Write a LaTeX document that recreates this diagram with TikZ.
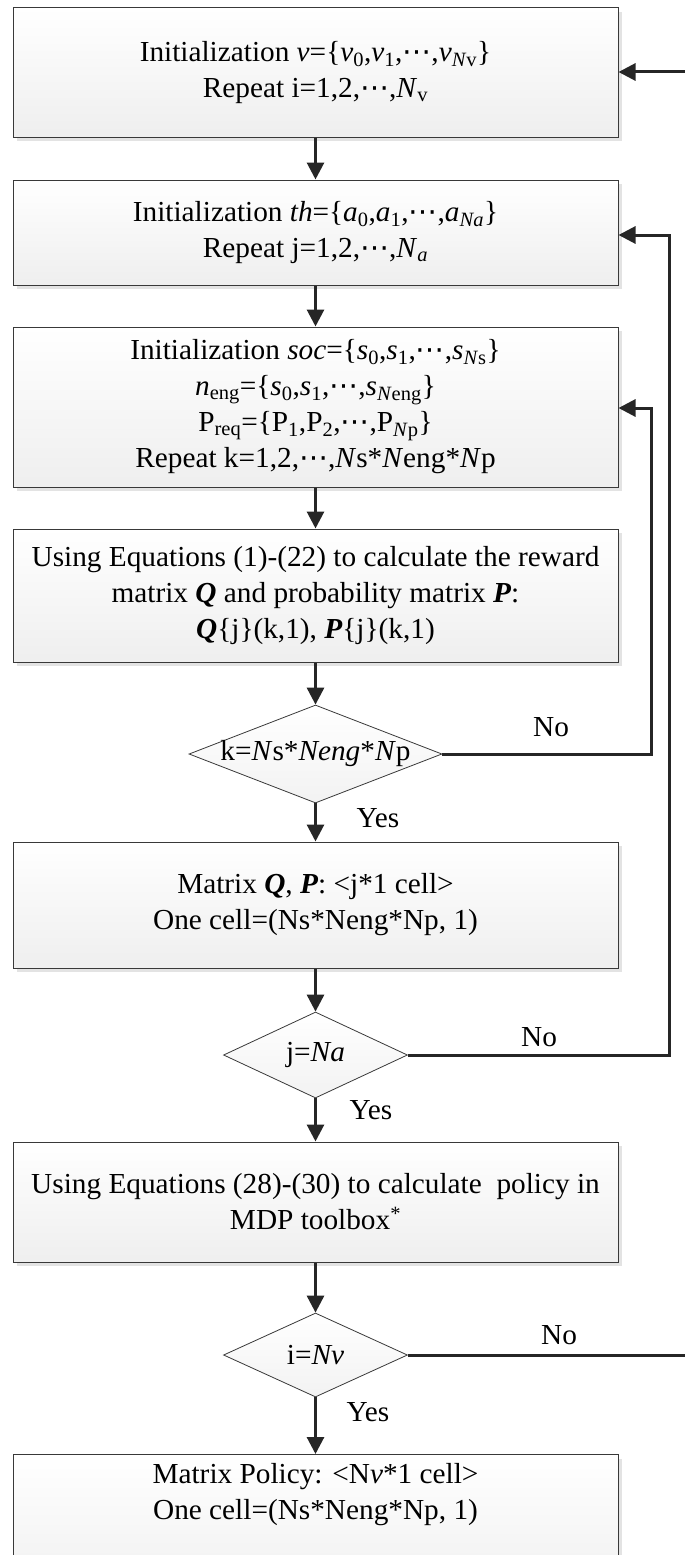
\documentclass[tikz,border=0pt]{standalone}
\usepackage{fontspec}
\setmainfont{Liberation Serif}[FakeStretch=1.01]
\newfontfamily\symfont{DejaVu Sans}
\usetikzlibrary{arrows.meta,shapes.geometric,shadows}
% midline ellipsis taken from DejaVu Sans
\newcommand\cdd{{\symfont ⋯}}
\newcommand\bi[1]{\textbf{\textit{#1}}}
\begin{document}
\begin{tikzpicture}[x=1pt,y=-1pt,
  font=\fontsize{29}{36}\selectfont,
  box/.style={draw=gray!45!black, line width=1pt, top color=white, bottom color=gray!13,
    minimum width=605pt, align=center, inner sep=0pt,
    drop shadow={shadow xshift=4pt, shadow yshift=-4pt, fill=gray!22, opacity=1}},
  dec/.style={diamond, draw=gray!45!black, line width=0.8pt, top color=white, bottom color=gray!10,
    inner sep=0pt},
  flow/.style={draw=gray!30!black, line width=3pt, -{Triangle[length=17pt,width=17pt]}},
  lab/.style={inner sep=0pt}]
\useasboundingbox (0,0) rectangle (685,1555);

% process boxes
\node[box, minimum height=129pt] (b1) at (315.5,72.5)
  {Initialization \textit{v}=\{\textit{v}\textsubscript{0},\textit{v}\textsubscript{1},\cdd,\textit{v}\textsubscript{\textit{N}v}\}\\
   Repeat i=1,2,\cdd,\textit{N}\textsubscript{v}};
\node[box, minimum height=105pt] (b2) at (315.5,232.5)
  {Initialization \textit{th}=\{\textit{a}\textsubscript{0},\textit{a}\textsubscript{1},\cdd,\textit{a}\textsubscript{\textit{Na}}\}\\
   Repeat j=1,2,\cdd,\textit{N}\textsubscript{\textit{a}}};
\node[box, minimum height=160pt] (b3) at (315.5,407)
  {Initialization \textit{soc}=\{\textit{s}\textsubscript{0},\textit{s}\textsubscript{1},\cdd,\textit{s}\textsubscript{\textit{N}s}\}\\
   \textit{n}\textsubscript{eng}=\{\textit{s}\textsubscript{0},\textit{s}\textsubscript{1},\cdd,\textit{s}\textsubscript{\textit{N}eng}\}\\
   P\textsubscript{req}=\{P\textsubscript{1},P\textsubscript{2},\cdd,P\textsubscript{\textit{N}p}\}\\
   Repeat k=1,2,\cdd,\textit{N}s*\textit{N}eng*\textit{N}p};
\node[box, minimum height=133pt] (b4) at (315.5,595.5)
  {Using Equations (1)-(22) to calculate the reward\\
   matrix \bi{Q} and probability matrix \bi{P}:\\
   \bi{Q}\{j\}(k,1), \bi{P}\{j\}(k,1)};
\node[dec, minimum width=253pt, minimum height=98pt] (d1) at (315.5,754)
  {\makebox[0pt]{k=\textit{N}s*\textit{Neng}*\textit{N}p}};
\node[box, minimum height=126pt] (b5) at (315.5,905)
  {Matrix \bi{Q}, \bi{P}: <j*1 cell>\\
   One cell=(Ns*Neng*Np, 1)};
\node[dec, minimum width=184pt, minimum height=86pt] (d2) at (315.5,1055)
  {\makebox[0pt]{j=\textit{Na}}};
\node[box, minimum height=120pt] (b6) at (315.5,1202)
  {Using Equations (28)-(30) to calculate\ \ policy in\\
   MDP toolbox\textsuperscript{*}};
\node[dec, minimum width=184pt, minimum height=84pt] (d3) at (315.5,1355)
  {\makebox[0pt]{i=\textit{Nv}}};
\node[box, anchor=north, inner ysep=9pt, text depth=80pt] (b7) at (315.5,1454)
  {Matrix Policy: <N\textit{v}*1 cell>\\
   One cell=(Ns*Neng*Np, 1)};

% main flow
\draw[flow] (b1.south) -- (b2.north);
\draw[flow] (b2.south) -- (b3.north);
\draw[flow] (b3.south) -- (b4.north);
\draw[flow] (b4.south) -- (d1.north);
\draw[flow] (d1.south) -- (b5.north);
\draw[flow] (b5.south) -- (d2.north);
\draw[flow] (d2.south) -- (b6.north);
\draw[flow] (b6.south) -- (d3.north);
\draw[flow] (d3.south) -- (b7.north);

% feedback loops
\coordinate (r1) at (651,408);
\coordinate (r2) at (669,235);
\coordinate (r3) at (688,72);
\draw[flow] (d1.east) -| (r1) -- (r1 -| b3.east);
\draw[flow] (d2.east) -| (r2) -- (r2 -| b2.east);
\draw[flow] (d3.east) -| (r3) -- (r3 -| b1.east);

% branch labels
\node[lab] (no1) at (551,727) {No};
\node[lab] (no2) at (539,1037) {No};
\node[lab] (no3) at (559,1335) {No};
\node[lab] (yes1) at (378,818) {Yes};
\node[lab] (yes2) at (371,1110) {Yes};
\node[lab] (yes3) at (368,1412) {Yes};
\end{tikzpicture}
\end{document}
